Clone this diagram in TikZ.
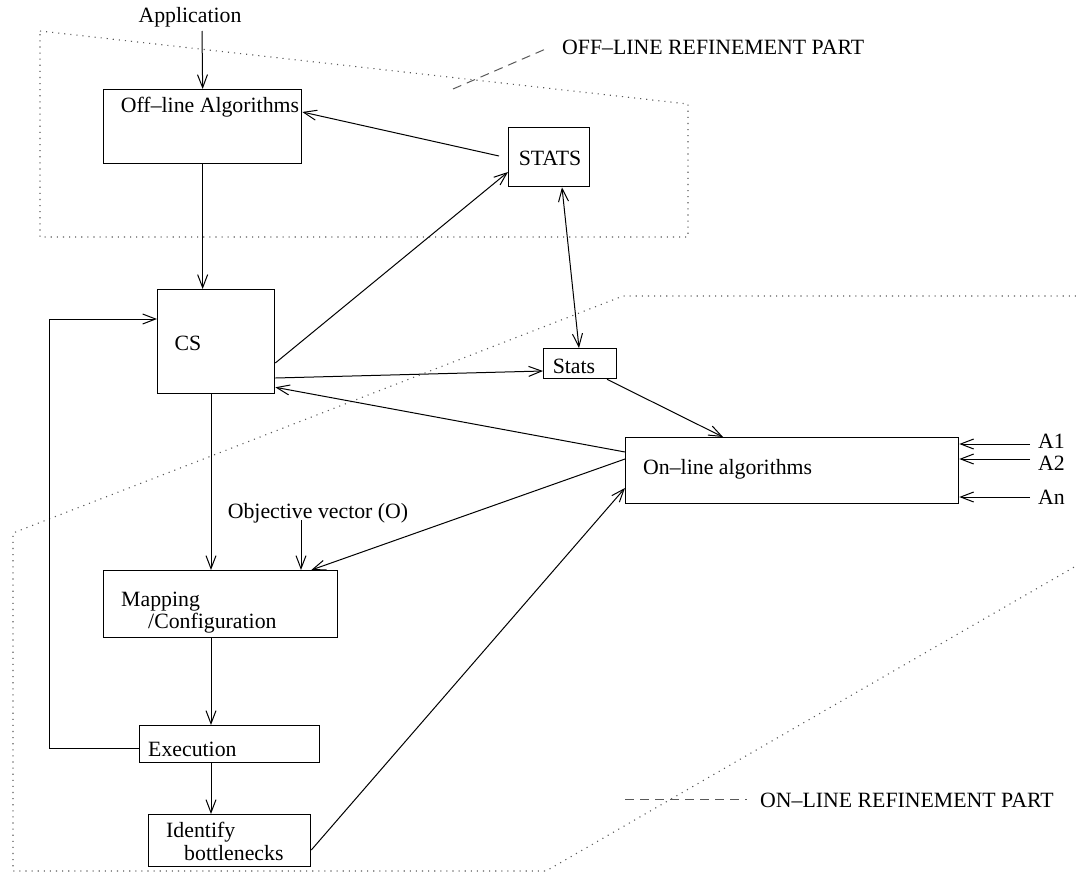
\documentclass[tikz,border=0pt]{standalone}
\usepackage{fontspec}
\setmainfont{Liberation Serif}
\usetikzlibrary{arrows.meta,calc}
\begin{document}
\begin{tikzpicture}[x=1pt,y=-1pt,
  box/.style={draw,line width=1.3pt,inner sep=0pt,anchor=north west},
  lbl/.style={inner sep=0pt,font=\fontsize{21.8}{24}\selectfont},
  arr/.style={line width=1pt,-{Straight Barb[length=13pt,width=10pt,line width=1pt]}},
  darr/.style={line width=1pt,{Straight Barb[length=13pt,width=10pt,line width=1pt]}-{Straight Barb[length=13pt,width=10pt,line width=1pt]}},
  conn/.style={line width=1pt},
  dotreg/.style={line width=1.1pt,dash pattern=on 1.1pt off 5pt,gray!70!black},
  leader/.style={line width=1pt,dash pattern=on 9pt off 6pt,gray!70!black}]
\useasboundingbox (0,0) rectangle (1076,881);
% regions
\draw[dotreg] (40,31) -- (688,104) -- (688,237) -- (40,237) -- cycle;
\draw[dotreg] (1076,296) -- (623,296) -- (13,533) -- (13,871) -- (546,871) -- (1076,566);
% boxes
\node[box,minimum width=198pt,minimum height=74pt] (off) at (103,89) {};
\node[box,minimum width=81pt,minimum height=59pt] (stats) at (508,127) {};
\node[box,minimum width=117pt,minimum height=104pt] (cs) at (157,289) {};
\node[box,minimum width=73pt,minimum height=30pt] (st) at (543,348) {};
\node[box,minimum width=333pt,minimum height=66pt] (on) at (625,437) {};
\node[box,minimum width=234pt,minimum height=67pt] (map) at (103,570) {};
\node[box,minimum width=180pt,minimum height=37pt] (exe) at (139,725) {};
\node[box,minimum width=162pt,minimum height=52pt] (idb) at (148,814) {};
% texts
\node[lbl] (app) at (190,17) {Application};
\node[lbl] (offt) at (210,107) {Off--line Algorithms};
\node[lbl] (statst) at (550,158) {STATS};
\node[lbl,anchor=west] (offref) at (562,47) {OFF--LINE REFINEMENT PART};
\node[lbl] (cst) at (188,343) {CS};
\node[lbl] (stt) at (574,366) {Stats};
\node[lbl,anchor=west] (ont) at (643,469) {On--line algorithms};
\node[lbl] (obj) at (318,513) {Objective vector (O)};
\node[lbl,anchor=west] (mapt1) at (121,602) {Mapping};
\node[lbl,anchor=west] (mapt2) at (148,623) {/Configuration};
\node[lbl,anchor=west] (exet) at (148,749) {Execution};
\node[lbl,anchor=west] (idbt1) at (166,832) {Identify};
\node[lbl,anchor=west] (idbt2) at (184,853) {bottlenecks};
\node[lbl,anchor=west] (onref) at (760,800) {ON--LINE REFINEMENT PART};
\node[lbl,anchor=west] (a1) at (1038,441) {A1};
\node[lbl,anchor=west] (a2) at (1038,463) {A2};
\node[lbl,anchor=west] (an) at (1038,497) {An};
% leader lines
\coordinate (offl1) at (453,89);
\coordinate (offl2) at (548,48);
\draw[leader] (offl1) -- (offl2);
\coordinate (onl1) at (625,799);
\coordinate (onl2) at (747,799);
\draw[leader] (onl1) -- (onl2);
% connectors
\coordinate (appdown) at (202,31);
\draw[arr] (appdown) -- (off.north);
\draw[arr] (off.south) -- (off.south |- cs.north);
\draw[arr] ([xshift=-9pt,yshift=-29pt]stats.north west) -- ([yshift=-23pt]off.north east);
\draw[arr] ([yshift=-74pt]cs.north east) -- ([yshift=-45pt]stats.north west);
\draw[darr] ([xshift=54pt]stats.south west) -- ([xshift=36pt]st.north west);
\draw[arr] ([yshift=-89pt]cs.north east) -- ([yshift=-23pt]st.north west);
\draw[arr] ([xshift=64pt]st.south west) -- ([xshift=98pt]on.north west);
\draw[arr] ([yshift=-15pt]on.north west) -- ([yshift=7pt]cs.south east);
\draw[arr] ([yshift=-22pt]on.north west) -- ([xshift=-27pt]map.north east);
\draw[arr] ([xshift=54pt]cs.south west) -- ([xshift=54pt]cs.south west |- map.north);
\coordinate (objdown) at (301,520);
\draw[arr] (objdown) -- (objdown |- map.north);
\draw[arr] ([xshift=108pt]map.south west) -- ([xshift=108pt]map.south west |- exe.north);
\draw[arr] ([xshift=72pt]exe.south west) -- ([xshift=72pt]exe.south west |- idb.north);
\coordinate (loopc) at (49,319);
\draw[arr] ([yshift=-23pt]exe.north west) -| (loopc) -- (loopc -| cs.west);
\draw[arr] ([yshift=-36pt]idb.north east) -- ([yshift=-51pt]on.north west);
\coordinate (a1s) at (1030,444);
\coordinate (a2s) at (1030,459);
\coordinate (ans) at (1030,497);
\draw[arr] (a1s) -- (a1s -| on.east);
\draw[arr] (a2s) -- (a2s -| on.east);
\draw[arr] (ans) -- (ans -| on.east);
\end{tikzpicture}
\end{document}
